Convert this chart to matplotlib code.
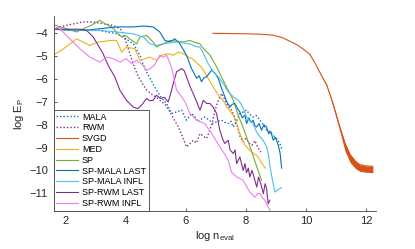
import numpy as np
import matplotlib
matplotlib.use("Agg")
import matplotlib.pyplot as plt

plt.rcParams['font.family'] = ['Liberation Sans', 'DejaVu Sans']
plt.rcParams['mathtext.default'] = 'regular'

# log n_eval / log E_P
mala_x = [1.58, 2.1, 2.6, 3.1, 3.7, 4.0, 4.25, 4.47, 4.63, 4.8, 5.0, 5.2, 5.36, 5.52, 5.7, 5.86,
          6.02, 6.19, 6.3, 6.41, 6.52, 6.63, 6.77, 6.91, 7.05, 7.19, 7.3, 7.41, 7.5, 7.58, 7.7,
          7.8, 7.9, 8.02, 8.1, 8.24, 8.35, 8.47, 8.58, 8.69, 8.8, 8.91, 9.02, 9.13, 9.19]
mala_y = [-3.82, -3.85, -3.87, -3.87, -4.02, -4.24, -4.46, -4.96, -5.55, -5.95, -6.45, -6.85,
          -7.07, -7.5, -7.44, -7.36, -7.8, -7.5, -7.65, -7.88, -7.75, -7.66, -7.8, -7.95, -7.85,
          -7.8, -7.9, -7.95, -7.85, -8.1, -7.8, -7.5, -7.45, -7.36, -7.5, -7.66, -7.6, -7.8,
          -8.0, -8.24, -8.3, -8.46, -8.6, -8.82, -9.04]

rwm_x = [1.58, 1.8, 2.13, 2.58, 2.91, 3.15, 3.47, 3.7, 3.86, 3.97, 4.08, 4.19, 4.3, 4.42, 4.55,
         4.7, 4.85, 5.02, 5.15, 5.3, 5.45, 5.6, 5.75, 5.91, 6.02, 6.12, 6.24, 6.35, 6.47, 6.58,
         6.69, 6.8, 6.9, 6.97, 7.08, 7.19, 7.3, 7.4, 7.5, 7.6, 7.7, 7.8, 7.9, 8.0, 8.1, 8.2,
         8.3, 8.4, 8.5]
rwm_y = [-3.85, -3.72, -3.62, -3.5, -3.5, -3.56, -3.62, -3.72, -3.87, -4.24, -4.68, -5.11, -5.55,
         -5.9, -6.2, -6.49, -6.65, -6.8, -6.95, -7.1, -7.4, -7.75, -8.1, -8.6, -8.97, -8.85,
         -8.68, -8.8, -8.39, -8.5, -8.6, -8.24, -7.8, -7.36, -6.93, -6.63, -6.9, -7.2, -7.3,
         -7.6, -8.0, -8.5, -8.75, -8.6, -8.8, -8.9, -8.7, -9.0, -9.2]

svgd_x = [6.9, 7.5, 8.0, 8.5, 8.9, 9.2, 9.47, 9.7, 9.9, 10.13, 10.3, 10.5, 10.69, 10.9, 11.13,
          11.3, 11.47, 11.65, 11.8, 12.0, 12.23]
svgd_hi = [-4.0, -4.01, -4.02, -4.04, -4.08, -4.18, -4.35, -4.5, -4.68, -4.92, -5.3, -5.8,
           -6.25, -7.06, -8.1, -8.8, -9.3, -9.6, -9.75, -9.8, -9.82]
svgd_lo = [-4.0, -4.01, -4.02, -4.04, -4.08, -4.18, -4.35, -4.5, -4.68, -4.92, -5.3, -5.82,
           -6.32, -7.2, -8.3, -9.15, -9.65, -9.92, -10.04, -10.08, -10.1]

med_x = [1.58, 1.9, 2.15, 2.36, 2.6, 2.8, 3.08, 3.3, 3.47, 3.69, 3.86, 4.02, 4.3, 4.47, 4.63,
         4.8, 5.02, 5.19, 5.41, 5.58, 5.74, 5.91, 6.08, 6.22, 6.36, 6.5, 6.58, 6.74, 6.91, 7.08,
         7.24, 7.36, 7.47, 7.58, 7.7, 7.8, 7.97, 8.08, 8.19, 8.3, 8.36, 8.47, 8.56, 8.65]
med_y = [-4.96, -4.7, -4.45, -4.24, -4.4, -4.53, -4.38, -4.35, -4.31, -4.31, -4.82, -4.6, -4.68,
         -5.18, -5.11, -5.04, -5.18, -4.96, -4.89, -4.96, -4.82, -4.89, -5.04, -5.12, -5.3,
         -5.45, -5.61, -5.97, -6.34, -6.71, -6.93, -7.22, -7.4, -7.6, -7.95, -8.39, -8.9,
         -9.05, -9.19, -9.3, -9.34, -9.56, -9.75, -9.9]

sp_x = [1.58, 2.02, 2.36, 2.58, 2.8, 3.13, 3.3, 3.52, 3.69, 3.86, 4.0, 4.13, 4.36, 4.47, 4.69,
        4.91, 5.02, 5.24, 5.47, 5.7, 5.91, 6.13, 6.3, 6.47, 6.58, 6.8, 7.02, 7.24, 7.41, 7.58,
        7.74, 7.9, 8.02, 8.2, 8.35, 8.52]
sp_y = [-3.62, -3.8, -3.94, -3.8, -3.68, -3.43, -3.58, -3.72, -3.94, -4.16, -4.1, -4.24, -4.46,
        -4.16, -4.09, -4.38, -4.6, -4.46, -4.31, -4.35, -4.38, -4.31, -4.4, -4.46, -4.66, -4.95,
        -5.46, -6.05, -6.49, -6.93, -7.58, -8.1, -8.53, -9.2, -9.8, -10.43]

mlast_x = [1.58, 2.1, 2.58, 3.13, 3.69, 4.24, 4.58, 4.91, 5.13, 5.3, 5.47, 5.63, 5.8, 6.02, 6.19,
           6.36, 6.44, 6.52, 6.6, 6.69, 6.86, 6.97, 7.08, 7.19, 7.3, 7.36, 7.47, 7.55, 7.63,
           7.72, 7.8, 7.88, 7.97, 8.02, 8.1, 8.17, 8.24, 8.3, 8.36, 8.44, 8.52, 8.6, 8.69, 8.76,
           8.83, 8.91, 8.98, 9.08, 9.14, 9.19]
mlast_y = [-3.82, -3.86, -3.87, -3.8, -3.72, -3.72, -3.68, -3.72, -3.94, -4.31, -4.38, -4.24,
           -4.46, -4.96, -5.55, -5.97, -5.85, -6.12, -5.95, -5.9, -5.61, -5.75, -5.97, -6.41,
           -6.78, -7.0, -7.22, -7.1, -7.07, -7.3, -7.44, -7.7, -7.58, -7.95, -7.7, -7.9, -7.8,
           -8.05, -8.1, -7.95, -8.24, -8.0, -8.1, -8.4, -8.3, -8.68, -8.55, -8.9, -9.26, -9.9]

minfl_x = [1.58, 2.1, 2.6, 3.13, 3.69, 4.24, 4.58, 4.8, 5.02, 5.24, 5.45, 5.69, 5.9, 6.13, 6.36,
           6.47, 6.58, 6.74, 6.91, 7.08, 7.24, 7.41, 7.58, 7.74, 7.82, 7.91, 8.02, 8.1, 8.24,
           8.35, 8.47, 8.58, 8.69, 8.75, 8.8, 8.88, 8.97, 9.05, 9.13, 9.19]
minfl_y = [-3.82, -3.85, -3.86, -3.87, -3.94, -4.02, -4.16, -4.46, -4.53, -4.46, -4.42, -4.38,
           -4.42, -4.46, -4.59, -4.6, -4.88, -5.32, -5.68, -5.9, -6.19, -6.56, -6.78, -6.93,
           -7.05, -7.29, -7.66, -7.8, -7.95, -8.3, -8.53, -8.7, -8.97, -9.3, -9.8, -10.4,
           -10.95, -10.85, -10.8, -10.75]

rlast_x = [1.58, 2.1, 2.47, 2.69, 2.91, 3.08, 3.24, 3.41, 3.63, 3.8, 4.02, 4.24, 4.4, 4.55, 4.69,
           4.8, 4.91, 5.02, 5.15, 5.28, 5.41, 5.5, 5.58, 5.69, 5.86, 5.95, 6.02, 6.13, 6.24,
           6.36, 6.47, 6.58, 6.69, 6.8, 6.9, 7.02, 7.13, 7.24, 7.3, 7.41, 7.47, 7.58, 7.64,
           7.69, 7.8, 7.91, 7.97, 8.02, 8.08, 8.13, 8.2, 8.25, 8.36, 8.42, 8.5, 8.58, 8.64, 8.69,
           8.74, 8.8]
rlast_y = [-3.82, -3.82, -3.82, -3.87, -4.16, -4.53, -4.89, -5.4, -5.9, -6.49, -6.93, -7.22,
           -7.3, -7.1, -6.85, -6.95, -6.93, -6.71, -6.85, -6.8, -7.0, -6.6, -6.19, -5.68, -5.54,
           -5.65, -5.9, -6.3, -6.63, -7.0, -7.36, -6.93, -7.07, -7.07, -7.22, -7.5, -8.24,
           -8.68, -8.82, -8.68, -9.1, -9.26, -9.1, -9.7, -9.41, -10.0, -9.7, -10.1, -9.9,
           -10.29, -10.0, -10.2, -10.73, -10.29, -10.6, -11.02, -10.58, -10.8, -11.46, -11.3]

rinfl_x = [1.58, 1.74, 2.13, 2.47, 2.8, 3.13, 3.36, 3.58, 3.8, 4.02, 4.19, 4.36, 4.58, 4.69, 4.8,
           4.95, 5.13, 5.25, 5.36, 5.52, 5.69, 5.86, 5.97, 6.13, 6.36, 6.63, 6.86, 7.13, 7.3,
           7.41, 7.52, 7.69, 7.91, 8.02, 8.13, 8.3, 8.4, 8.47, 8.55, 8.63, 8.7, 8.8]
rinfl_y = [-3.82, -3.72, -4.24, -4.68, -5.04, -5.26, -5.04, -5.11, -5.26, -5.11, -5.33, -5.18,
           -5.4, -5.62, -5.55, -5.4, -4.96, -5.05, -4.96, -5.48, -6.49, -6.78, -7.0, -7.5, -7.8,
           -7.95, -8.39, -8.97, -9.3, -9.56, -10.07, -10.29, -10.43, -10.7, -10.95, -11.17,
           -11.0, -11.02, -11.2, -11.3, -11.5, -11.75]

fig = plt.figure(figsize=(4.15, 2.49), dpi=100)
ax = fig.add_axes([0.129, 0.154, 0.776, 0.781])

lw = 0.8
dot = (0, (1, 1.5))
ax.plot(mala_x, mala_y, color='#0072BD', lw=1.0, ls=dot, label='MALA')
ax.plot(rwm_x, rwm_y, color='#7E2F8E', lw=1.0, ls=dot, label='RWM')
ax.fill_between(svgd_x, svgd_lo, svgd_hi, color='#D95319', lw=0)
ax.plot(svgd_x, svgd_hi, color='#D95319', lw=lw, label='SVGD')
ax.plot(med_x, med_y, color='#EDB120', lw=lw, label='MED')
ax.plot(sp_x, sp_y, color='#77AC30', lw=lw, label='SP')
ax.plot(mlast_x, mlast_y, color='#0072BD', lw=lw, label='SP-MALA LAST')
ax.plot(minfl_x, minfl_y, color='#4DBEEE', lw=lw, label='SP-MALA INFL')
ax.plot(rlast_x, rlast_y, color='#7E2F8E', lw=lw, label='SP-RWM LAST')
ax.plot(rinfl_x, rinfl_y, color='#F07CF0', lw=lw, label='SP-RWM INFL')

ax.set_xlim(1.59, 12.32)
ax.set_ylim(-11.76, -3.25)
ax.set_xticks([2, 4, 6, 8, 10, 12])
ax.set_yticks([-11, -10, -9, -8, -7, -6, -5, -4])
ax.spines['top'].set_visible(False)
ax.spines['right'].set_visible(False)
for s in ['left', 'bottom']:
    ax.spines[s].set_color('#404040')
    ax.spines[s].set_linewidth(0.6)
ax.tick_params(direction='in', length=2.5, width=0.6, color='#404040', labelsize=8,
               labelcolor='#262626', pad=4)
ax.set_xlabel('log n$_{eval}$', fontsize=8, color='#262626', labelpad=2)
ax.set_ylabel('log E$_P$', fontsize=8, color='#262626', labelpad=2)

leg = ax.legend(loc='lower left', borderaxespad=0, fontsize=6.5, handlelength=2.4,
                handletextpad=0.45, labelspacing=0.2, borderpad=0.3, fancybox=False,
                framealpha=1, edgecolor='#404040')
leg.get_frame().set_linewidth(0.6)

fig.savefig('out.png', dpi=100)
